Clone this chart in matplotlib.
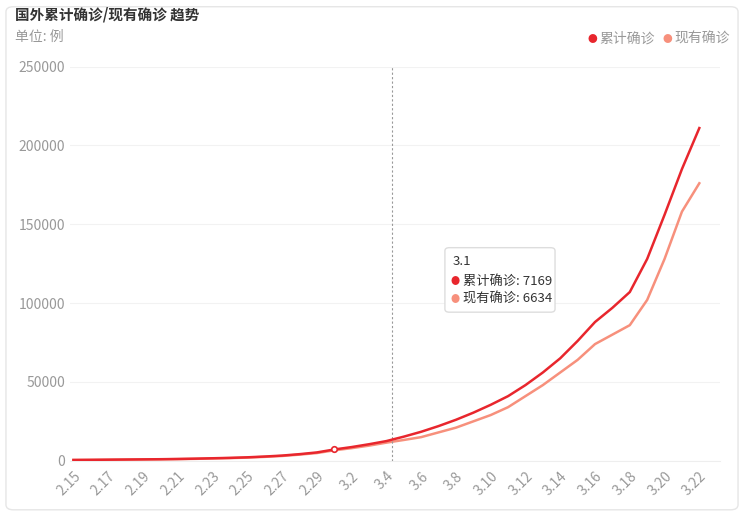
import matplotlib.pyplot as plt
from matplotlib.patches import FancyBboxPatch

plt.rcParams['font.family'] = ['Noto Sans CJK SC', 'DejaVu Sans']

dates = ['2.15', '2.16', '2.17', '2.18', '2.19', '2.20', '2.21', '2.22', '2.23', '2.24',
         '2.25', '2.26', '2.27', '2.28', '2.29', '3.1', '3.2', '3.3', '3.4', '3.5',
         '3.6', '3.7', '3.8', '3.9', '3.10', '3.11', '3.12', '3.13', '3.14', '3.15',
         '3.16', '3.17', '3.18', '3.19', '3.20', '3.21', '3.22']
total = [526, 600, 700, 800, 900, 1000, 1150, 1350, 1600, 1850,
         2200, 2700, 3300, 4200, 5300, 7169, 8700, 10500, 12500, 15300,
         18400, 22000, 26000, 30500, 35500, 41000, 48000, 56000, 65000, 76000,
         88000, 97000, 107000, 128000, 156000, 185000, 211000]
current = [480, 550, 640, 730, 820, 910, 1050, 1230, 1460, 1700,
           2020, 2480, 3050, 3900, 4900, 6634, 8000, 9600, 11500, 13200,
           15000, 18000, 21000, 25000, 29000, 34000, 41000, 48000, 56000, 64000,
           74000, 80000, 86000, 102000, 128000, 158000, 176000]

red = '#e8262d'
salmon = '#f7907c'
grey = '#999999'

fig = plt.figure(figsize=(7.44, 5.16), dpi=100)
fig.patches.append(FancyBboxPatch((0.008, 0.012), 0.984, 0.975, boxstyle='round,pad=0,rounding_size=0.01',
                                  transform=fig.transFigure, fc='white', ec='#e6e6e6', lw=1, zorder=-10))
ax = fig.add_axes([0.094, 0.107, 0.874, 0.764])
ax.patch.set_alpha(0)
x = list(range(len(dates)))
ax.plot(x, total, color=red, lw=1.8, zorder=3)
ax.plot(x, current, color=salmon, lw=1.8, zorder=2)
ax.plot(15, 7169, 'o', ms=4, mfc='white', mec=red, mew=1.2, zorder=4)
ax.axvline(18.35, color='#999999', ls=(0, (2, 2)), lw=0.8)

ax.set_xlim(-0.2, 37.2)
ax.set_ylim(0, 250000)
ax.set_yticks(range(0, 250001, 50000))
ax.set_xticks(x[::2])
ax.set_xticklabels(dates[::2], rotation=45, ha='right', rotation_mode='anchor')
ax.tick_params(colors=grey, labelsize=10, length=0)
ax.tick_params(axis='x', pad=6)
ax.grid(axis='y', color='#f2f2f2', lw=0.8)
ax.set_axisbelow(True)
for s in ax.spines.values():
    s.set_visible(False)
ax.spines['bottom'].set_visible(True)
ax.spines['bottom'].set_color('#eeeeee')

fig.text(0.02, 0.972, '国外累计确诊/现有确诊 趋势', fontsize=10.5, fontweight='bold', color='#333333', va='center')
fig.text(0.02, 0.928, '单位: 例', fontsize=10, color=grey, va='center')
fig.text(0.79, 0.925, '●', fontsize=7, color=red, va='center')
fig.text(0.806, 0.925, '累计确诊', fontsize=10, color=grey, va='center')
fig.text(0.89, 0.925, '●', fontsize=7, color=salmon, va='center')
fig.text(0.906, 0.925, '现有确诊', fontsize=10, color=grey, va='center')

# tooltip
fig.patches.append(FancyBboxPatch((0.598, 0.395), 0.148, 0.125, boxstyle='round,pad=0,rounding_size=0.006',
                                  transform=fig.transFigure, fc='white', ec='#dddddd', lw=1, zorder=5))
fig.text(0.608, 0.493, '3.1', fontsize=9.5, color='#333333', va='center', zorder=6)
fig.text(0.606, 0.455, '●', fontsize=6.5, color=red, va='center', zorder=6)
fig.text(0.622, 0.455, '累计确诊: 7169', fontsize=9.5, color='#333333', va='center', zorder=6)
fig.text(0.606, 0.42, '●', fontsize=6.5, color=salmon, va='center', zorder=6)
fig.text(0.622, 0.42, '现有确诊: 6634', fontsize=9.5, color='#333333', va='center', zorder=6)

fig.savefig('out.png', dpi=100)
